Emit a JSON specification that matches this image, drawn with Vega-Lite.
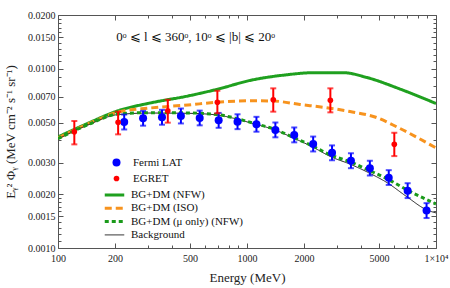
{
  "$schema": "https://vega.github.io/schema/vega-lite/v6.json",
  "width": 378,
  "height": 233,
  "autosize": {"type": "none"},
  "padding": {"left": 58, "top": 15, "right": 14, "bottom": 40},
  "background": "white",
  "config": {
    "view": {"stroke": "#555555", "strokeWidth": 1},
    "font": "Liberation Serif",
    "axis": {
      "labelFont": "Liberation Serif",
      "titleFont": "Liberation Serif",
      "labelColor": "#222222",
      "titleColor": "#222222",
      "tickColor": "#555555",
      "grid": false,
      "domain": false,
      "labelFontSize": 10,
      "titleFontSize": 13,
      "titleFontWeight": "normal",
      "labelFlush": false,
      "labelOverlap": false,
      "labelBound": false
    },
    "legend": {"labelFont": "Liberation Serif", "labelFontSize": 11, "labelColor": "#111111", "padding": 0}
  },
  "datasets": {
    "curves": [
      {"model": "BG+DM (NFW)", "E": 100, "v": 0.00417},
      {"model": "BG+DM (NFW)", "E": 144, "v": 0.00497},
      {"model": "BG+DM (NFW)", "E": 208, "v": 0.00584},
      {"model": "BG+DM (NFW)", "E": 307, "v": 0.00645},
      {"model": "BG+DM (NFW)", "E": 487, "v": 0.00706},
      {"model": "BG+DM (NFW)", "E": 694, "v": 0.00769},
      {"model": "BG+DM (NFW)", "E": 1063, "v": 0.00867},
      {"model": "BG+DM (NFW)", "E": 1589, "v": 0.00925},
      {"model": "BG+DM (NFW)", "E": 2290, "v": 0.00953},
      {"model": "BG+DM (NFW)", "E": 3220, "v": 0.00953},
      {"model": "BG+DM (NFW)", "E": 4313, "v": 0.00895},
      {"model": "BG+DM (NFW)", "E": 6450, "v": 0.00772},
      {"model": "BG+DM (NFW)", "E": 10000, "v": 0.00641},
      {"model": "BG+DM (ISO)", "E": 100, "v": 0.00411},
      {"model": "BG+DM (ISO)", "E": 144, "v": 0.00493},
      {"model": "BG+DM (ISO)", "E": 208, "v": 0.00574},
      {"model": "BG+DM (ISO)", "E": 307, "v": 0.00605},
      {"model": "BG+DM (ISO)", "E": 487, "v": 0.00629},
      {"model": "BG+DM (ISO)", "E": 694, "v": 0.00651},
      {"model": "BG+DM (ISO)", "E": 1063, "v": 0.00664},
      {"model": "BG+DM (ISO)", "E": 1373, "v": 0.00662},
      {"model": "BG+DM (ISO)", "E": 1907, "v": 0.00633},
      {"model": "BG+DM (ISO)", "E": 2586, "v": 0.00609},
      {"model": "BG+DM (ISO)", "E": 3508, "v": 0.00578},
      {"model": "BG+DM (ISO)", "E": 4755, "v": 0.00539},
      {"model": "BG+DM (ISO)", "E": 6219, "v": 0.00474},
      {"model": "BG+DM (ISO)", "E": 8229, "v": 0.00406},
      {"model": "BG+DM (ISO)", "E": 10000, "v": 0.00362},
      {"model": "Background", "E": 100, "v": 0.00406},
      {"model": "Background", "E": 144, "v": 0.00486},
      {"model": "Background", "E": 208, "v": 0.00556},
      {"model": "Background", "E": 307, "v": 0.00567},
      {"model": "Background", "E": 487, "v": 0.00565},
      {"model": "Background", "E": 694, "v": 0.00553},
      {"model": "Background", "E": 864, "v": 0.00528},
      {"model": "Background", "E": 1063, "v": 0.00497},
      {"model": "Background", "E": 1407, "v": 0.00456},
      {"model": "Background", "E": 1773, "v": 0.0041},
      {"model": "Background", "E": 2208, "v": 0.00368},
      {"model": "Background", "E": 2782, "v": 0.00323},
      {"model": "Background", "E": 3508, "v": 0.00294},
      {"model": "Background", "E": 4475, "v": 0.00261},
      {"model": "Background", "E": 5572, "v": 0.0023},
      {"model": "Background", "E": 7023, "v": 0.00193},
      {"model": "Background", "E": 8961, "v": 0.00163},
      {"model": "Background", "E": 10000, "v": 0.00157},
      {"model": "BG+DM (μ only) (NFW)", "E": 100, "v": 0.00408},
      {"model": "BG+DM (μ only) (NFW)", "E": 144, "v": 0.00488},
      {"model": "BG+DM (μ only) (NFW)", "E": 208, "v": 0.0056},
      {"model": "BG+DM (μ only) (NFW)", "E": 307, "v": 0.0057},
      {"model": "BG+DM (μ only) (NFW)", "E": 487, "v": 0.00568},
      {"model": "BG+DM (μ only) (NFW)", "E": 694, "v": 0.00556},
      {"model": "BG+DM (μ only) (NFW)", "E": 864, "v": 0.00531},
      {"model": "BG+DM (μ only) (NFW)", "E": 1063, "v": 0.005},
      {"model": "BG+DM (μ only) (NFW)", "E": 1407, "v": 0.00459},
      {"model": "BG+DM (μ only) (NFW)", "E": 1773, "v": 0.00413},
      {"model": "BG+DM (μ only) (NFW)", "E": 2208, "v": 0.00372},
      {"model": "BG+DM (μ only) (NFW)", "E": 2782, "v": 0.0033},
      {"model": "BG+DM (μ only) (NFW)", "E": 3508, "v": 0.00303},
      {"model": "BG+DM (μ only) (NFW)", "E": 4475, "v": 0.0027},
      {"model": "BG+DM (μ only) (NFW)", "E": 5572, "v": 0.00242},
      {"model": "BG+DM (μ only) (NFW)", "E": 7023, "v": 0.00211},
      {"model": "BG+DM (μ only) (NFW)", "E": 8961, "v": 0.00186},
      {"model": "BG+DM (μ only) (NFW)", "E": 10000, "v": 0.00176}
    ],
    "obs": [
      {"src": "Fermi LAT", "E": 224, "v": 0.00505, "lo": 0.00459, "hi": 0.00556},
      {"src": "Fermi LAT", "E": 282, "v": 0.0053, "lo": 0.00482, "hi": 0.00583},
      {"src": "Fermi LAT", "E": 355, "v": 0.00537, "lo": 0.00488, "hi": 0.00591},
      {"src": "Fermi LAT", "E": 447, "v": 0.00546, "lo": 0.00496, "hi": 0.00601},
      {"src": "Fermi LAT", "E": 562, "v": 0.00532, "lo": 0.00484, "hi": 0.00585},
      {"src": "Fermi LAT", "E": 708, "v": 0.00516, "lo": 0.00469, "hi": 0.00568},
      {"src": "Fermi LAT", "E": 891, "v": 0.00507, "lo": 0.00461, "hi": 0.00558},
      {"src": "Fermi LAT", "E": 1122, "v": 0.00491, "lo": 0.00446, "hi": 0.0054},
      {"src": "Fermi LAT", "E": 1413, "v": 0.00456, "lo": 0.00415, "hi": 0.00502},
      {"src": "Fermi LAT", "E": 1778, "v": 0.00428, "lo": 0.00389, "hi": 0.00471},
      {"src": "Fermi LAT", "E": 2239, "v": 0.00381, "lo": 0.00346, "hi": 0.00419},
      {"src": "Fermi LAT", "E": 2818, "v": 0.0034, "lo": 0.00309, "hi": 0.00374},
      {"src": "Fermi LAT", "E": 3548, "v": 0.00307, "lo": 0.00279, "hi": 0.00338},
      {"src": "Fermi LAT", "E": 4467, "v": 0.00279, "lo": 0.00254, "hi": 0.00307},
      {"src": "Fermi LAT", "E": 5623, "v": 0.00247, "lo": 0.00225, "hi": 0.00272},
      {"src": "Fermi LAT", "E": 7079, "v": 0.00209, "lo": 0.0019, "hi": 0.0023},
      {"src": "Fermi LAT", "E": 8913, "v": 0.00162, "lo": 0.00147, "hi": 0.00178},
      {"src": "EGRET", "E": 122, "v": 0.00446, "lo": 0.00379, "hi": 0.00512},
      {"src": "EGRET", "E": 208, "v": 0.00503, "lo": 0.00431, "hi": 0.00577},
      {"src": "EGRET", "E": 381, "v": 0.00584, "lo": 0.00501, "hi": 0.00673},
      {"src": "EGRET", "E": 697, "v": 0.00651, "lo": 0.00565, "hi": 0.00755},
      {"src": "EGRET", "E": 1377, "v": 0.00673, "lo": 0.00577, "hi": 0.00779},
      {"src": "EGRET", "E": 2761, "v": 0.00668, "lo": 0.00572, "hi": 0.00779},
      {"src": "EGRET", "E": 6017, "v": 0.00379, "lo": 0.00326, "hi": 0.0044}
    ],
    "note": [{"label": "0ᵒ ⩽ l ⩽ 360ᵒ, 10ᵒ ⩽ |b| ⩽ 20ᵒ"}]
  },
  "resolve": {"axis": {"x": "independent", "y": "independent"}},
  "layer": [
    {
      "data": {"name": "curves"},
      "transform": [{"filter": "datum.model === 'BG+DM (NFW)' || datum.model === 'BG+DM (ISO)'"}],
      "mark": {"type": "line", "interpolate": "monotone", "clip": true},
      "encoding": {
        "x": {"field": "E", "type": "quantitative", "scale": {"type": "log", "domain": [100, 10000], "nice": false},
          "axis": {"orient": "bottom", "values": [100, 200, 500, 1000, 2000, 5000, 10000], "ticks": false, "labelPadding": 5,
            "labelExpr": "datum.value == 10000 ? '1×10⁴' : format(datum.value, 'd')", "title": "Energy (MeV)", "titlePadding": 8, "titleFontWeight": "normal"}},
        "y": {"field": "v", "type": "quantitative", "scale": {"type": "log", "domain": [0.001, 0.02], "nice": false},
          "axis": {"orient": "left", "values": [0.001, 0.0015, 0.002, 0.003, 0.005, 0.007, 0.01, 0.015, 0.02], "format": ".4f", "ticks": false, "labelPadding": 3,
            "title": "Eᵧ² Φᵧ (MeV cm⁻² s⁻¹ sr⁻¹)", "titlePadding": 10, "titleFontWeight": "normal"}},
        "stroke": {"field": "model", "type": "nominal",
          "scale": {"domain": ["BG+DM (NFW)", "BG+DM (ISO)", "BG+DM (μ only) (NFW)", "Background"], "range": ["#1fa01f", "#f7931e", "#1a9a1a", "#222222"]},
          "legend": {"title": null, "orient": "none", "legendX": 45, "legendY": 174.5, "symbolType": "stroke", "symbolSize": 380, "clipHeight": 11, "rowPadding": 1.3, "labelOffset": 5}},
        "strokeDash": {"field": "model", "type": "nominal",
          "scale": {"domain": ["BG+DM (NFW)", "BG+DM (ISO)", "BG+DM (μ only) (NFW)", "Background"], "range": [[1, 0], [7, 4], [4, 3], [1, 0]]}},
        "strokeWidth": {"field": "model", "type": "nominal",
          "scale": {"type": "ordinal", "domain": ["BG+DM (NFW)", "BG+DM (ISO)", "BG+DM (μ only) (NFW)", "Background"], "range": [3, 3, 3, 1]}}
      }
    },
    {
      "data": {"name": "curves"},
      "transform": [{"filter": "datum.model === 'Background'"}],
      "mark": {"type": "line", "interpolate": "monotone", "clip": true},
      "encoding": {
        "x": {"field": "E", "type": "quantitative", "scale": {"type": "log", "domain": [100, 10000], "nice": false},
          "axis": {"orient": "bottom", "values": [100, 200, 500, 1000, 2000, 5000, 10000], "labels": false, "title": null, "tickSize": -5}},
        "y": {"field": "v", "type": "quantitative", "scale": {"type": "log", "domain": [0.001, 0.02], "nice": false},
          "axis": {"orient": "left", "values": [0.001, 0.0015, 0.002, 0.003, 0.005, 0.007, 0.01, 0.015, 0.02], "labels": false, "title": null, "tickSize": -5}},
        "stroke": {"field": "model", "type": "nominal",
          "scale": {"domain": ["BG+DM (NFW)", "BG+DM (ISO)", "BG+DM (μ only) (NFW)", "Background"], "range": ["#1fa01f", "#f7931e", "#1a9a1a", "#222222"]}},
        "strokeDash": {"field": "model", "type": "nominal",
          "scale": {"domain": ["BG+DM (NFW)", "BG+DM (ISO)", "BG+DM (μ only) (NFW)", "Background"], "range": [[1, 0], [7, 4], [4, 3], [1, 0]]}},
        "strokeWidth": {"field": "model", "type": "nominal",
          "scale": {"type": "ordinal", "domain": ["BG+DM (NFW)", "BG+DM (ISO)", "BG+DM (μ only) (NFW)", "Background"], "range": [3, 3, 3, 1]}}
      }
    },
    {
      "data": {"name": "curves"},
      "transform": [{"filter": "datum.model === 'BG+DM (μ only) (NFW)'"}],
      "mark": {"type": "line", "interpolate": "monotone", "clip": true},
      "encoding": {
        "x": {"field": "E", "type": "quantitative", "scale": {"type": "log", "domain": [100, 10000], "nice": false},
          "axis": {"orient": "bottom", "values": [300, 400, 600, 700, 800, 900, 3000, 4000, 6000, 7000, 8000, 9000], "labels": false, "title": null, "tickSize": -3}},
        "y": {"field": "v", "type": "quantitative", "scale": {"type": "log", "domain": [0.001, 0.02], "nice": false},
          "axis": {"orient": "left", "values": [0.0011, 0.0012, 0.0013, 0.0014, 0.0016, 0.0017, 0.0018, 0.0019, 0.0025, 0.004, 0.006, 0.008, 0.009, 0.011, 0.012, 0.013, 0.014, 0.016, 0.017, 0.018, 0.019], "labels": false, "title": null, "tickSize": -3}},
        "stroke": {"field": "model", "type": "nominal",
          "scale": {"domain": ["BG+DM (NFW)", "BG+DM (ISO)", "BG+DM (μ only) (NFW)", "Background"], "range": ["#1fa01f", "#f7931e", "#1a9a1a", "#222222"]}},
        "strokeDash": {"field": "model", "type": "nominal",
          "scale": {"domain": ["BG+DM (NFW)", "BG+DM (ISO)", "BG+DM (μ only) (NFW)", "Background"], "range": [[1, 0], [7, 4], [4, 3], [1, 0]]}},
        "strokeWidth": {"field": "model", "type": "nominal",
          "scale": {"type": "ordinal", "domain": ["BG+DM (NFW)", "BG+DM (ISO)", "BG+DM (μ only) (NFW)", "Background"], "range": [3, 3, 3, 1]}}
      }
    },
    {
      "data": {"name": "obs"},
      "transform": [{"filter": "datum.src === 'Fermi LAT'"}],
      "mark": {"type": "errorbar", "ticks": true, "size": 6, "thickness": 2, "color": "#0000ff"},
      "encoding": {
        "x": {"field": "E", "type": "quantitative", "scale": {"type": "log", "domain": [100, 10000], "nice": false}, "axis": null},
        "y": {"field": "lo", "type": "quantitative", "scale": {"type": "log", "domain": [0.001, 0.02], "nice": false}, "axis": null},
        "y2": {"field": "hi"}
      }
    },
    {
      "data": {"name": "obs"},
      "transform": [{"filter": "datum.src === 'EGRET'"}],
      "mark": {"type": "errorbar", "ticks": true, "size": 6, "thickness": 2, "color": "#ff0000"},
      "encoding": {
        "x": {"field": "E", "type": "quantitative", "scale": {"type": "log", "domain": [100, 10000], "nice": false}, "axis": null},
        "y": {"field": "lo", "type": "quantitative", "scale": {"type": "log", "domain": [0.001, 0.02], "nice": false}, "axis": null},
        "y2": {"field": "hi"}
      }
    },
    {
      "data": {"name": "obs"},
      "transform": [{"filter": "datum.src === 'Fermi LAT'"}],
      "mark": {"type": "point", "shape": "circle", "filled": true, "opacity": 1},
      "encoding": {
        "x": {"field": "E", "type": "quantitative", "scale": {"type": "log", "domain": [100, 10000], "nice": false},
          "axis": {"orient": "top", "values": [100, 200, 500, 1000, 2000, 5000, 10000], "labels": false, "title": null, "tickSize": -5}},
        "y": {"field": "v", "type": "quantitative", "scale": {"type": "log", "domain": [0.001, 0.02], "nice": false},
          "axis": {"orient": "right", "values": [0.001, 0.0015, 0.002, 0.003, 0.005, 0.007, 0.01, 0.015, 0.02], "labels": false, "title": null, "tickSize": -5}},
        "fill": {"field": "src", "type": "nominal", "scale": {"domain": ["Fermi LAT", "EGRET"], "range": ["#0000ff", "#ff0000"]},
          "legend": {"title": null, "orient": "none", "legendX": 53, "legendY": 142, "rowPadding": 2, "labelOffset": 11}},
        "size": {"field": "src", "type": "nominal", "scale": {"type": "ordinal", "domain": ["Fermi LAT", "EGRET"], "range": [64, 32]}}
      }
    },
    {
      "data": {"name": "obs"},
      "transform": [{"filter": "datum.src === 'EGRET'"}],
      "mark": {"type": "point", "shape": "circle", "filled": true, "opacity": 1},
      "encoding": {
        "x": {"field": "E", "type": "quantitative", "scale": {"type": "log", "domain": [100, 10000], "nice": false},
          "axis": {"orient": "top", "values": [300, 400, 600, 700, 800, 900, 3000, 4000, 6000, 7000, 8000, 9000], "labels": false, "title": null, "tickSize": -3}},
        "y": {"field": "v", "type": "quantitative", "scale": {"type": "log", "domain": [0.001, 0.02], "nice": false},
          "axis": {"orient": "right", "values": [0.0011, 0.0012, 0.0013, 0.0014, 0.0016, 0.0017, 0.0018, 0.0019, 0.0025, 0.004, 0.006, 0.008, 0.009, 0.011, 0.012, 0.013, 0.014, 0.016, 0.017, 0.018, 0.019], "labels": false, "title": null, "tickSize": -3}},
        "fill": {"field": "src", "type": "nominal", "scale": {"domain": ["Fermi LAT", "EGRET"], "range": ["#0000ff", "#ff0000"]}},
        "size": {"field": "src", "type": "nominal", "scale": {"type": "ordinal", "domain": ["Fermi LAT", "EGRET"], "range": [64, 32]}}
      }
    },
    {
      "data": {"name": "note"},
      "mark": {"type": "text", "font": "Liberation Serif", "fontSize": 13, "align": "center", "baseline": "alphabetic", "color": "#111111"},
      "encoding": {
        "x": {"datum": 535, "type": "quantitative", "scale": {"type": "log", "domain": [100, 10000], "nice": false}, "axis": null},
        "y": {"datum": 0.0144, "type": "quantitative", "scale": {"type": "log", "domain": [0.001, 0.02], "nice": false}, "axis": null},
        "text": {"field": "label", "type": "nominal"}
      }
    }
  ]
}
